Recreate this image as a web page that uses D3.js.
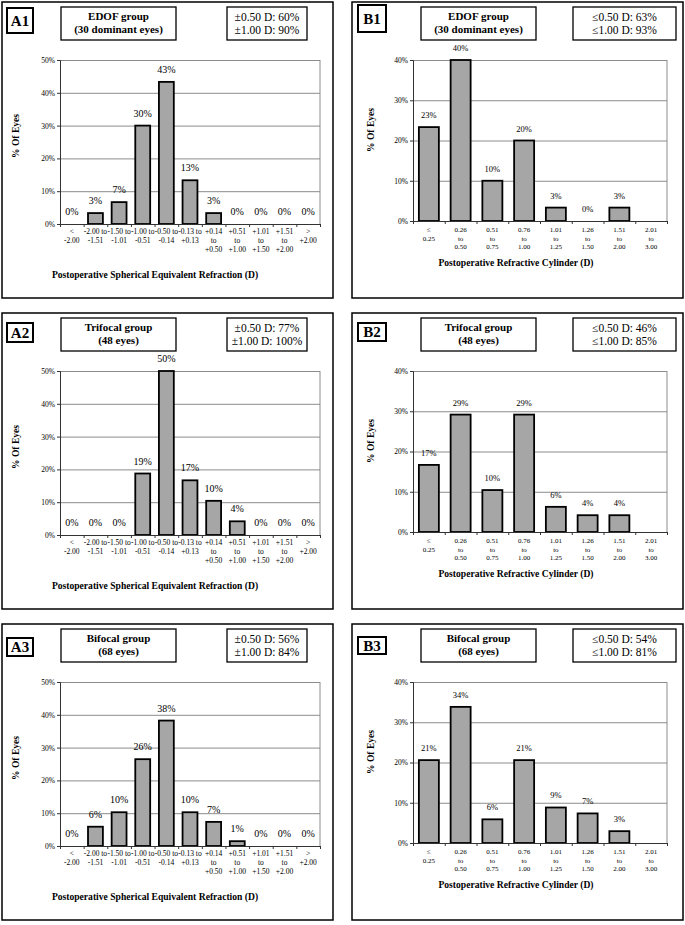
<!DOCTYPE html>
<html>
<head>
<meta charset="utf-8">
<script src="https://cdn.jsdelivr.net/npm/d3@7"></script>
<style>
  body { margin: 0; background: #fff; }
  svg { display: block; }
  text { font-family: "Liberation Serif", "Times New Roman", serif; fill: #000; }
</style>
</head>
<body>
<svg id="chart" width="685" height="925"></svg>
<script>
// categories (x tick labels, one entry per line)
const sphCategories = [
  ['<', '-2.00'], ['-2.00 to', '-1.51'], ['-1.50 to', '-1.01'], ['-1.00 to', '-0.51'],
  ['-0.50 to', '-0.14'], ['-0.13 to', '+0.13'], ['+0.14', 'to', '+0.50'], ['+0.51', 'to', '+1.00'],
  ['+1.01', 'to', '+1.50'], ['+1.51', 'to', '+2.00'], ['>', '+2.00']
];
const cylCategories = [
  ['\u2264', '0.25'], ['0.26', 'to', '0.50'], ['0.51', 'to', '0.75'], ['0.76', 'to', '1.00'],
  ['1.01', 'to', '1.25'], ['1.26', 'to', '1.50'], ['1.51', 'to', '2.00'], ['2.01', 'to', '3.00']
];

// % of eyes per bin (null = no label drawn)
const a1Values = [0, 3.33, 6.67, 30, 43.33, 13.33, 3.33, 0, 0, 0, 0];
const a2Values = [0, 0, 0, 18.75, 50, 16.67, 10.42, 4.17, 0, 0, 0];
const a3Values = [0, 5.88, 10.29, 26.47, 38.24, 10.29, 7.35, 1.47, 0, 0, 0];
const b1Values = [23.33, 40, 10, 20, 3.33, 0, 3.33, null];
const b2Values = [16.67, 29.17, 10.42, 29.17, 6.25, 4.17, 4.17, null];
const b3Values = [20.59, 33.82, 5.88, 20.59, 8.82, 7.35, 2.94, null];

const sphTicks = [0, 10, 20, 30, 40, 50];
const cylTicks = [0, 10, 20, 30, 40];

const panelIds = ['A1', 'B1', 'A2', 'B2', 'A3', 'B3'];
const panelTitles = [
  ['EDOF group', '(30 dominant eyes)'], ['EDOF group', '(30 dominant eyes)'],
  ['Trifocal group', '(48 eyes)'], ['Trifocal group', '(48 eyes)'],
  ['Bifocal group', '(68 eyes)'], ['Bifocal group', '(68 eyes)']
];
const panelStats = [
  ['\u00b10.50 D: 60%', '\u00b11.00 D: 90%'], ['\u22640.50 D: 63%', '\u22641.00 D: 93%'],
  ['\u00b10.50 D: 77%', '\u00b11.00 D: 100%'], ['\u22640.50 D: 46%', '\u22641.00 D: 85%'],
  ['\u00b10.50 D: 56%', '\u00b11.00 D: 84%'], ['\u22640.50 D: 54%', '\u22641.00 D: 81%']
];
const panelValues = [a1Values, b1Values, a2Values, b2Values, a3Values, b3Values];

const sphTitle = 'Postoperative Spherical Equivalent Refraction (D)';
const cylTitle = 'Postoperative Refractive Cylinder (D)';

// layout (kept apart from the data)
const panelPos = [[2, 2], [352, 2], [2, 313], [352, 313], [2, 624], [352, 624]];
const labelBoxY = [[6, 25], [3, 27], [10, 19], [10, 18], [14, 18], [13, 17]];
const PW = 331, PH = 296;

const typeA = {
  cats: sphCategories, ticks: sphTicks, max: 50, xTitle: sphTitle,
  plot: { l: 58, r: 318, t: 58, b: 222 },
  labelX: 5, labelW: 26,
  titleBox: [59, 115], statBox: [225, 80],
  valFont: 10, tickFont: 7.5, lineH: 9, firstLine: 10,
  xTitleX: 153, xTitleY: 276, yTitleX: 14, yTitleY: 134
};
const typeB = {
  cats: cylCategories, ticks: cylTicks, max: 40, xTitle: cylTitle,
  plot: { l: 61, r: 315, t: 58, b: 219 },
  labelX: 6, labelW: 28,
  titleBox: [69, 115], statBox: [221, 103],
  valFont: 8.5, tickFont: 7, lineH: 8.5, firstLine: 11,
  xTitleX: 164, xTitleY: 264, yTitleX: 19, yTitleY: 128
};

const svg = d3.select('#chart');

panelIds.forEach((id, i) => {
  const cfg = id[0] === 'A' ? typeA : typeB;
  const g = svg.append('g').attr('transform', 'translate(' + panelPos[i][0] + ',' + panelPos[i][1] + ')');
  const p = cfg.plot;
  const values = panelValues[i];

  g.append('rect').attr('x', 0).attr('y', 0).attr('width', PW).attr('height', PH)
    .attr('fill', '#fff').attr('stroke', '#000').attr('stroke-width', 1.5);

  // panel label box
  g.append('rect').attr('x', cfg.labelX).attr('y', labelBoxY[i][0])
    .attr('width', cfg.labelW).attr('height', labelBoxY[i][1])
    .attr('fill', '#fff').attr('stroke', '#000').attr('stroke-width', 2);
  g.append('text').attr('x', cfg.labelX + cfg.labelW / 2).attr('y', labelBoxY[i][0] + labelBoxY[i][1] / 2 + 5)
    .attr('text-anchor', 'middle').attr('font-size', 15).attr('font-weight', 'bold').text(id);

  // title box
  g.append('rect').attr('x', cfg.titleBox[0]).attr('y', 5).attr('width', cfg.titleBox[1]).attr('height', 33)
    .attr('fill', '#fff').attr('stroke', '#000').attr('stroke-width', 1.3);
  panelTitles[i].forEach((t, k) => {
    g.append('text').attr('x', cfg.titleBox[0] + cfg.titleBox[1] / 2).attr('y', 18 + k * 13)
      .attr('text-anchor', 'middle').attr('font-size', 11).attr('font-weight', 'bold').text(t);
  });

  // stats box
  g.append('rect').attr('x', cfg.statBox[0]).attr('y', 5).attr('width', cfg.statBox[1]).attr('height', 33)
    .attr('fill', '#fff').attr('stroke', '#000').attr('stroke-width', 1.3);
  panelStats[i].forEach((t, k) => {
    g.append('text').attr('x', cfg.statBox[0] + cfg.statBox[1] / 2).attr('y', 19 + k * 13)
      .attr('text-anchor', 'middle').attr('font-size', 11.5).text(t);
  });

  const n = cfg.cats.length;
  const x = d3.scaleBand().domain(d3.range(n)).range([p.l, p.r]).paddingInner(0.37).paddingOuter(0.185);
  const xEdge = d3.scaleLinear().domain([0, n]).range([p.l, p.r]);
  const y = d3.scaleLinear().domain([0, cfg.max]).range([p.b, p.t]);

  // gridlines
  g.append('g').attr('transform', 'translate(' + p.l + ',0)')
    .call(d3.axisLeft(y).tickValues(cfg.ticks.slice(1)).tickSize(-(p.r - p.l)).tickFormat(''))
    .call(s => s.select('.domain').remove())
    .call(s => s.selectAll('line').attr('stroke', '#8c8c8c').attr('stroke-width', 1));
  // plot frame right side
  g.append('line').attr('x1', p.r).attr('x2', p.r).attr('y1', p.t).attr('y2', p.b)
    .attr('stroke', '#8c8c8c').attr('stroke-width', 1);

  // bars
  g.append('g').selectAll('rect')
    .data(values.map((v, k) => ({ v: v, k: k })).filter(d => d.v))
    .join('rect')
    .attr('x', d => x(d.k))
    .attr('y', d => y(d.v))
    .attr('width', x.bandwidth())
    .attr('height', d => y(0) - y(d.v))
    .attr('fill', '#a6a6a6')
    .attr('stroke', '#000')
    .attr('stroke-width', 1.8);

  // value labels
  g.append('g').selectAll('text')
    .data(values.map((v, k) => ({ v: v, k: k })).filter(d => d.v !== null))
    .join('text')
    .attr('x', d => x(d.k) + x.bandwidth() / 2)
    .attr('y', d => y(d.v) - 9)
    .attr('text-anchor', 'middle')
    .attr('font-size', cfg.valFont)
    .text(d => Math.round(d.v) + '%');

  // y axis
  g.append('g').attr('transform', 'translate(' + p.l + ',0)')
    .call(d3.axisLeft(y).tickValues(cfg.ticks).tickSize(3).tickPadding(2).tickFormat(d => d + '%'))
    .call(s => s.select('.domain').attr('stroke', '#333'))
    .call(s => s.selectAll('line').attr('stroke', '#333'))
    .call(s => s.selectAll('text').attr('font-size', 7.5).attr('font-family', '"Liberation Serif", serif').attr('fill', '#000'));

  // x axis with ticks at bin edges
  g.append('g').attr('transform', 'translate(0,' + p.b + ')')
    .call(d3.axisBottom(xEdge).tickValues(d3.range(n + 1)).tickSize(3).tickSizeOuter(0).tickFormat(''))
    .call(s => s.select('.domain').attr('stroke', '#333').attr('stroke-width', 1.2))
    .call(s => s.selectAll('line').attr('stroke', '#333'));

  // x tick labels
  const lab = g.append('g').selectAll('text').data(cfg.cats).join('text')
    .attr('text-anchor', 'middle').attr('font-size', cfg.tickFont);
  lab.each(function (lines, k) {
    d3.select(this).selectAll('tspan').data(lines).join('tspan')
      .attr('x', x(k) + x.bandwidth() / 2)
      .attr('y', (d, j) => p.b + cfg.firstLine + j * cfg.lineH)
      .text(d => d);
  });

  // axis titles
  g.append('text').attr('x', cfg.xTitleX).attr('y', cfg.xTitleY)
    .attr('text-anchor', 'middle').attr('font-size', 9.6).attr('font-weight', 'bold').text(cfg.xTitle);
  g.append('text').attr('transform', 'translate(' + cfg.yTitleX + ',' + cfg.yTitleY + ') rotate(-90)')
    .attr('text-anchor', 'middle').attr('dy', '0.35em').attr('font-size', 9.5).attr('font-weight', 'bold').text('% Of Eyes');
});
</script>
</body>
</html>
